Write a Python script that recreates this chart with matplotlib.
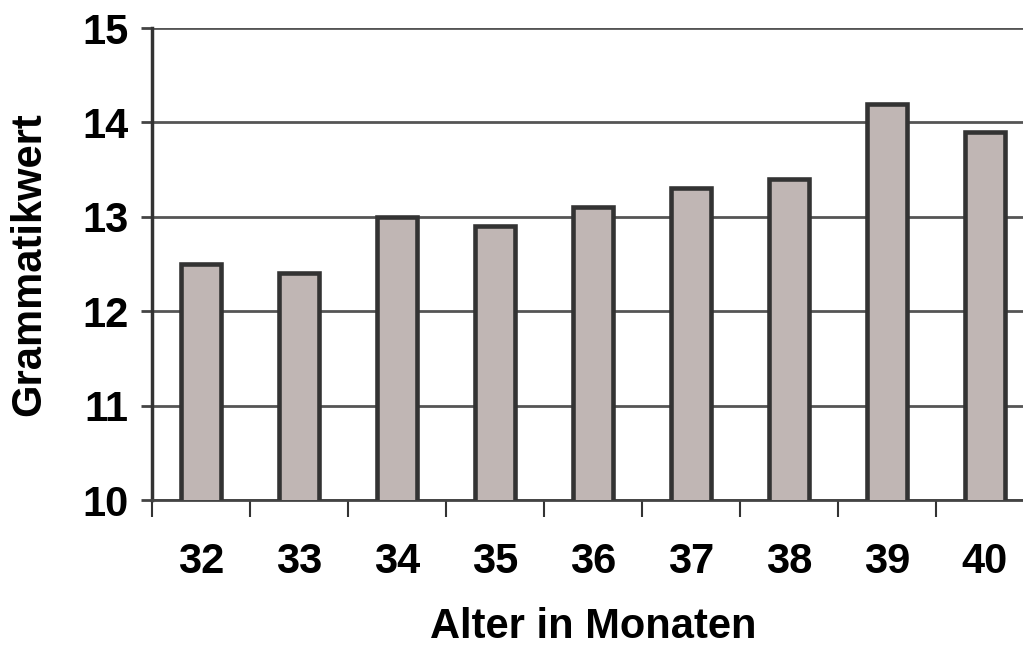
import matplotlib.pyplot as plt
import numpy as np

# ---------------- Data ----------------

alter = ["32", "33", "34", "35", "36", "37", "38", "39", "40"]
grammatikwert = [12.5, 12.4, 13.0, 12.9, 13.1, 13.3, 13.4, 14.2, 13.9]

plt.rcParams["font.family"] = ["Liberation Sans", "DejaVu Sans"]
plt.rcParams["font.weight"] = "bold"

fig = plt.figure(figsize=(10.23, 6.5), dpi=100)

# plot area runs off the right edge, like the original
left = 152 / 1023
right = 1034 / 1023
bottom = 1 - 500 / 650
top = 1 - 28 / 650
ax = fig.add_axes([left, bottom, right - left, top - bottom])

x = np.arange(len(alter))

ax.bar(
    x,
    grammatikwert,
    width=0.40,
    bottom=0,
    color="#c0b6b4",
    edgecolor="#333333",
    linewidth=3.3,
    zorder=3
)

ax.set_ylim(10, 15)
ax.set_xlim(-0.5, len(alter) - 0.5)

ax.set_yticks([10, 11, 12, 13, 14, 15])
ax.yaxis.grid(True, color="#555555", linewidth=2, zorder=0)

ax.set_xticks(x)
ax.set_xticklabels(alter)
ax.set_xticks(np.arange(len(alter) + 1) - 0.5, minor=True)
ax.tick_params(axis="x", which="major", length=0, pad=30, labelsize=30)
ax.tick_params(axis="x", which="minor", length=12, width=1.5, color="#333333")
ax.tick_params(axis="y", length=8, width=2, color="#444444", labelsize=30, pad=9)

for side in ["top", "right"]:
    ax.spines[side].set_visible(False)
ax.spines["left"].set_linewidth(2.5)
ax.spines["left"].set_color("#333333")
ax.spines["bottom"].set_linewidth(2)
ax.spines["bottom"].set_color("#444444")

ax.set_xlabel("Alter in Monaten", fontsize=30, fontweight="bold", labelpad=18)
ax.set_ylabel("Grammatikwert", fontsize=30, fontweight="bold", labelpad=24)

for lbl in ax.get_xticklabels() + ax.get_yticklabels():
    lbl.set_fontweight("bold")

fig.savefig("out.png", dpi=100)
